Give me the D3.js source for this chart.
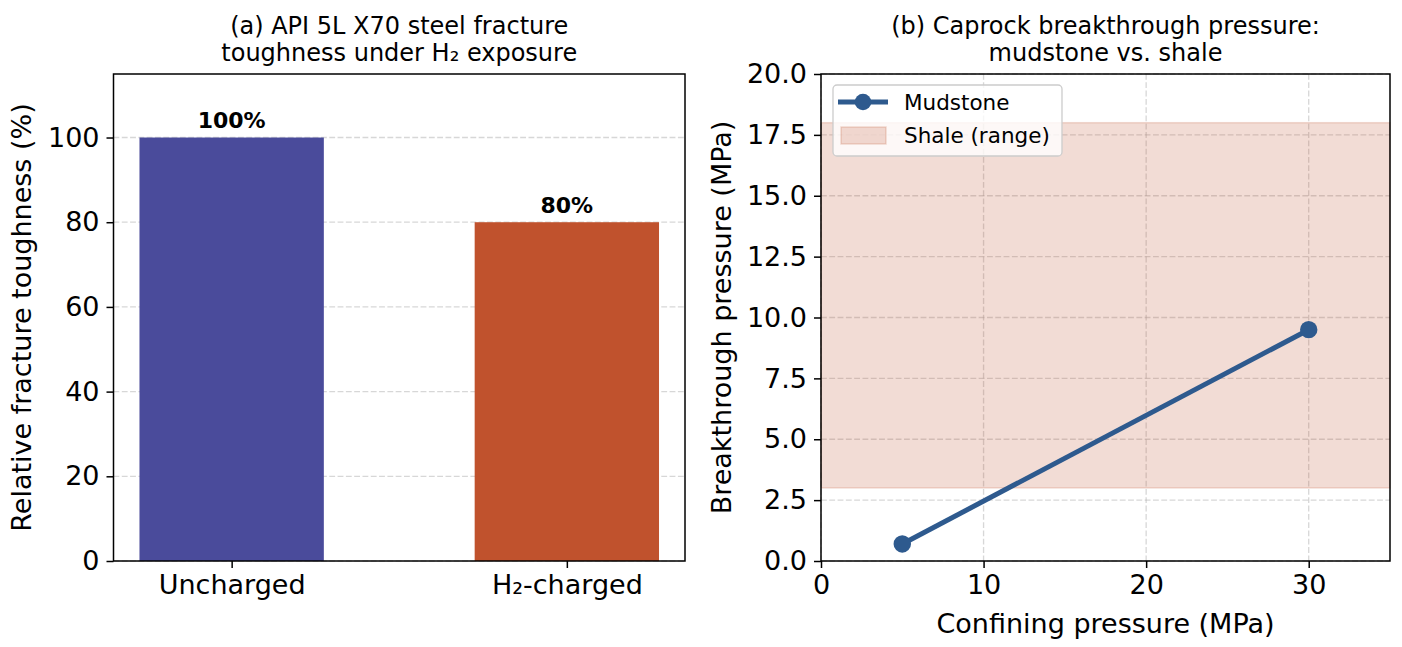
<!DOCTYPE html>
<html>
<head>
<meta charset="utf-8">
<script src="https://cdn.jsdelivr.net/npm/d3@7"></script>
<style>
  body { margin: 0; background: #fff; }
  svg { font-family: "DejaVu Sans", sans-serif; }
  .tick text { fill: #000; }
</style>
</head>
<body>
<div id="plotRegi"></div>
<script>
/* Data */
// Panel (a)
const categories = ["Uncharged", "H\u2082-charged"]
const toughness = [100, 80]
const toughnessLabels = ["100%", "80%"]
const yTicksA = [0, 20, 40, 60, 80, 100]

// Panel (b)
const confining = [5, 30]
const breakthrough = [0.7, 9.5]
const shaleRange = [3, 18]
const xTicksB = [0, 10, 20, 30]
const yTicksB = [0, 2.5, 5, 7.5, 10, 12.5, 15, 17.5, 20]

/* Styles */
const barColor = { "Uncharged": "#4a4b9b", "H\u2082-charged": "#c0522d" }
const lineColor = "#2e5a8e"
const shaleColor = "#c0522d"
const tickFont = 27

/* Drawing */
var svg = d3.select("#plotRegi")
    .append("svg")
    .attr("width", 1402)
    .attr("height", 647)

// Helper to style an axis group
function styleAxis(g) {
    g.attr("font-family", "DejaVu Sans").attr("font-size", tickFont)
    g.select(".domain").remove()
    g.selectAll(".tick line").attr("stroke", "#000").attr("stroke-width", 1.5)
    g.selectAll(".tick text").style("font-size", tickFont + "px").style("font-family", "DejaVu Sans")
}

function gridLines(g, scale, ticks, x1, x2, vertical) {
    g.selectAll("NONE")
        .data(ticks)
        .enter()
        .append("line")
        .attr("x1", d => vertical ? scale(d) : x1)
        .attr("x2", d => vertical ? scale(d) : x2)
        .attr("y1", d => vertical ? x1 : scale(d))
        .attr("y2", d => vertical ? x2 : scale(d))
        .attr("stroke", "#b0b0b0")
        .attr("stroke-opacity", 0.5)
        .attr("stroke-width", 1.3)
        .attr("stroke-dasharray", "5.8,2.5")
}

/* ---- Panel (a) ---- */
var A = { left: 113.5, right: 685, top: 74, bottom: 561 }

var xA = d3.scaleLinear().domain([-0.3525, 1.3525]).range([A.left, A.right])
var yA = d3.scaleLinear().domain([0, 115]).range([A.bottom, A.top])
var barW = 0.55

var gA = svg.append("g").attr("id", "PanelA")

gridLines(gA.append("g"), yA, yTicksA, A.left, A.right, false)

gA.selectAll("NONE")
    .data(categories)
    .enter()
    .append("rect")
    .attr("x", (d, i) => xA(i - barW / 2))
    .attr("width", (d, i) => xA(i + barW / 2) - xA(i - barW / 2))
    .attr("y", (d, i) => yA(toughness[i]))
    .attr("height", (d, i) => yA(0) - yA(toughness[i]))
    .attr("fill", d => barColor[d])

gA.selectAll("NONE")
    .data(categories)
    .enter()
    .append("text")
    .attr("x", (d, i) => xA(i))
    .attr("y", (d, i) => yA(toughness[i]) - 9.5)
    .attr("text-anchor", "middle")
    .style("font-size", "22px")
    .style("font-weight", "bold")
    .text((d, i) => toughnessLabels[i])

gA.append("g")
    .attr("transform", "translate(" + A.left + ",0)")
    .call(d3.axisLeft(yA).tickValues(yTicksA).tickSize(7).tickPadding(7))
    .call(styleAxis)

gA.append("g")
    .attr("transform", "translate(0," + A.bottom + ")")
    .call(d3.axisBottom(xA).tickValues([0, 1]).tickFormat(i => categories[i]).tickSize(7).tickPadding(7))
    .call(styleAxis)

gA.append("rect")
    .attr("x", A.left).attr("y", A.top)
    .attr("width", A.right - A.left).attr("height", A.bottom - A.top)
    .attr("fill", "none").attr("stroke", "#000").attr("stroke-width", 1.5)

gA.append("text")
    .attr("transform", "translate(31," + (A.top + A.bottom) / 2 + ") rotate(-90)")
    .attr("text-anchor", "middle")
    .style("font-size", "27px")
    .text("Relative fracture toughness (%)")

gA.append("text")
    .attr("x", (A.left + A.right) / 2).attr("y", 34)
    .attr("text-anchor", "middle")
    .style("font-size", "24px")
    .text("(a) API 5L X70 steel fracture")

gA.append("text")
    .attr("x", (A.left + A.right) / 2).attr("y", 61)
    .attr("text-anchor", "middle")
    .style("font-size", "24px")
    .text("toughness under H\u2082 exposure")

/* ---- Panel (b) ---- */
var B = { left: 821, right: 1390, top: 74, bottom: 561 }

var xB = d3.scaleLinear().domain([0, 35]).range([B.left, B.right])
var yB = d3.scaleLinear().domain([0, 20]).range([B.bottom, B.top])

var gB = svg.append("g").attr("id", "PanelB")

gridLines(gB.append("g"), yB, yTicksB, B.left, B.right, false)
gridLines(gB.append("g"), xB, xTicksB, B.top, B.bottom, true)

// Shale band
gB.append("rect")
    .attr("x", B.left)
    .attr("width", B.right - B.left)
    .attr("y", yB(shaleRange[1]))
    .attr("height", yB(shaleRange[0]) - yB(shaleRange[1]))
    .attr("fill", shaleColor)
    .attr("fill-opacity", 0.2)
    .attr("stroke", shaleColor)
    .attr("stroke-opacity", 0.2)
    .attr("stroke-width", 1.5)

// Mudstone line
var pts = confining.map((c, i) => [c, breakthrough[i]])

gB.append("path")
    .datum(pts)
    .attr("d", d3.line().x(d => xB(d[0])).y(d => yB(d[1])))
    .attr("fill", "none")
    .attr("stroke", lineColor)
    .attr("stroke-width", 5)

gB.selectAll("NONE")
    .data(pts)
    .enter()
    .append("circle")
    .attr("cx", d => xB(d[0]))
    .attr("cy", d => yB(d[1]))
    .attr("r", 8.7)
    .attr("fill", lineColor)

gB.append("g")
    .attr("transform", "translate(" + B.left + ",0)")
    .call(d3.axisLeft(yB).tickValues(yTicksB).tickFormat(d3.format(".1f")).tickSize(7).tickPadding(7))
    .call(styleAxis)

gB.append("g")
    .attr("transform", "translate(0," + B.bottom + ")")
    .call(d3.axisBottom(xB).tickValues(xTicksB).tickSize(7).tickPadding(7))
    .call(styleAxis)

gB.append("rect")
    .attr("x", B.left).attr("y", B.top)
    .attr("width", B.right - B.left).attr("height", B.bottom - B.top)
    .attr("fill", "none").attr("stroke", "#000").attr("stroke-width", 1.5)

gB.append("text")
    .attr("transform", "translate(731," + (B.top + B.bottom) / 2 + ") rotate(-90)")
    .attr("text-anchor", "middle")
    .style("font-size", "27px")
    .text("Breakthrough pressure (MPa)")

gB.append("text")
    .attr("x", (B.left + B.right) / 2).attr("y", 633)
    .attr("text-anchor", "middle")
    .style("font-size", "27px")
    .text("Confining pressure (MPa)")

gB.append("text")
    .attr("x", (B.left + B.right) / 2).attr("y", 34)
    .attr("text-anchor", "middle")
    .style("font-size", "24px")
    .text("(b) Caprock breakthrough pressure:")

gB.append("text")
    .attr("x", (B.left + B.right) / 2).attr("y", 61)
    .attr("text-anchor", "middle")
    .style("font-size", "24px")
    .text("mudstone vs. shale")

// Legend
var leg = gB.append("g").attr("id", "Legend")

leg.append("rect")
    .attr("x", B.left + 12).attr("y", B.top + 11)
    .attr("width", 229).attr("height", 71)
    .attr("rx", 4)
    .attr("fill", "#fff").attr("fill-opacity", 0.8)
    .attr("stroke", "#cccccc").attr("stroke-width", 1.3)

leg.append("line")
    .attr("x1", B.left + 17).attr("x2", B.left + 67)
    .attr("y1", B.top + 28).attr("y2", B.top + 28)
    .attr("stroke", lineColor).attr("stroke-width", 5)

leg.append("circle")
    .attr("cx", B.left + 42).attr("cy", B.top + 28)
    .attr("r", 8.3)
    .attr("fill", lineColor)

leg.append("rect")
    .attr("x", B.left + 20).attr("y", B.top + 53)
    .attr("width", 45).attr("height", 17)
    .attr("fill", shaleColor).attr("fill-opacity", 0.2)
    .attr("stroke", shaleColor).attr("stroke-opacity", 0.2).attr("stroke-width", 1.5)

leg.append("text")
    .attr("x", B.left + 83).attr("y", B.top + 36)
    .style("font-size", "21.5px")
    .text("Mudstone")

leg.append("text")
    .attr("x", B.left + 83).attr("y", B.top + 69)
    .style("font-size", "21.5px")
    .text("Shale (range)")
</script>
</body>
</html>
